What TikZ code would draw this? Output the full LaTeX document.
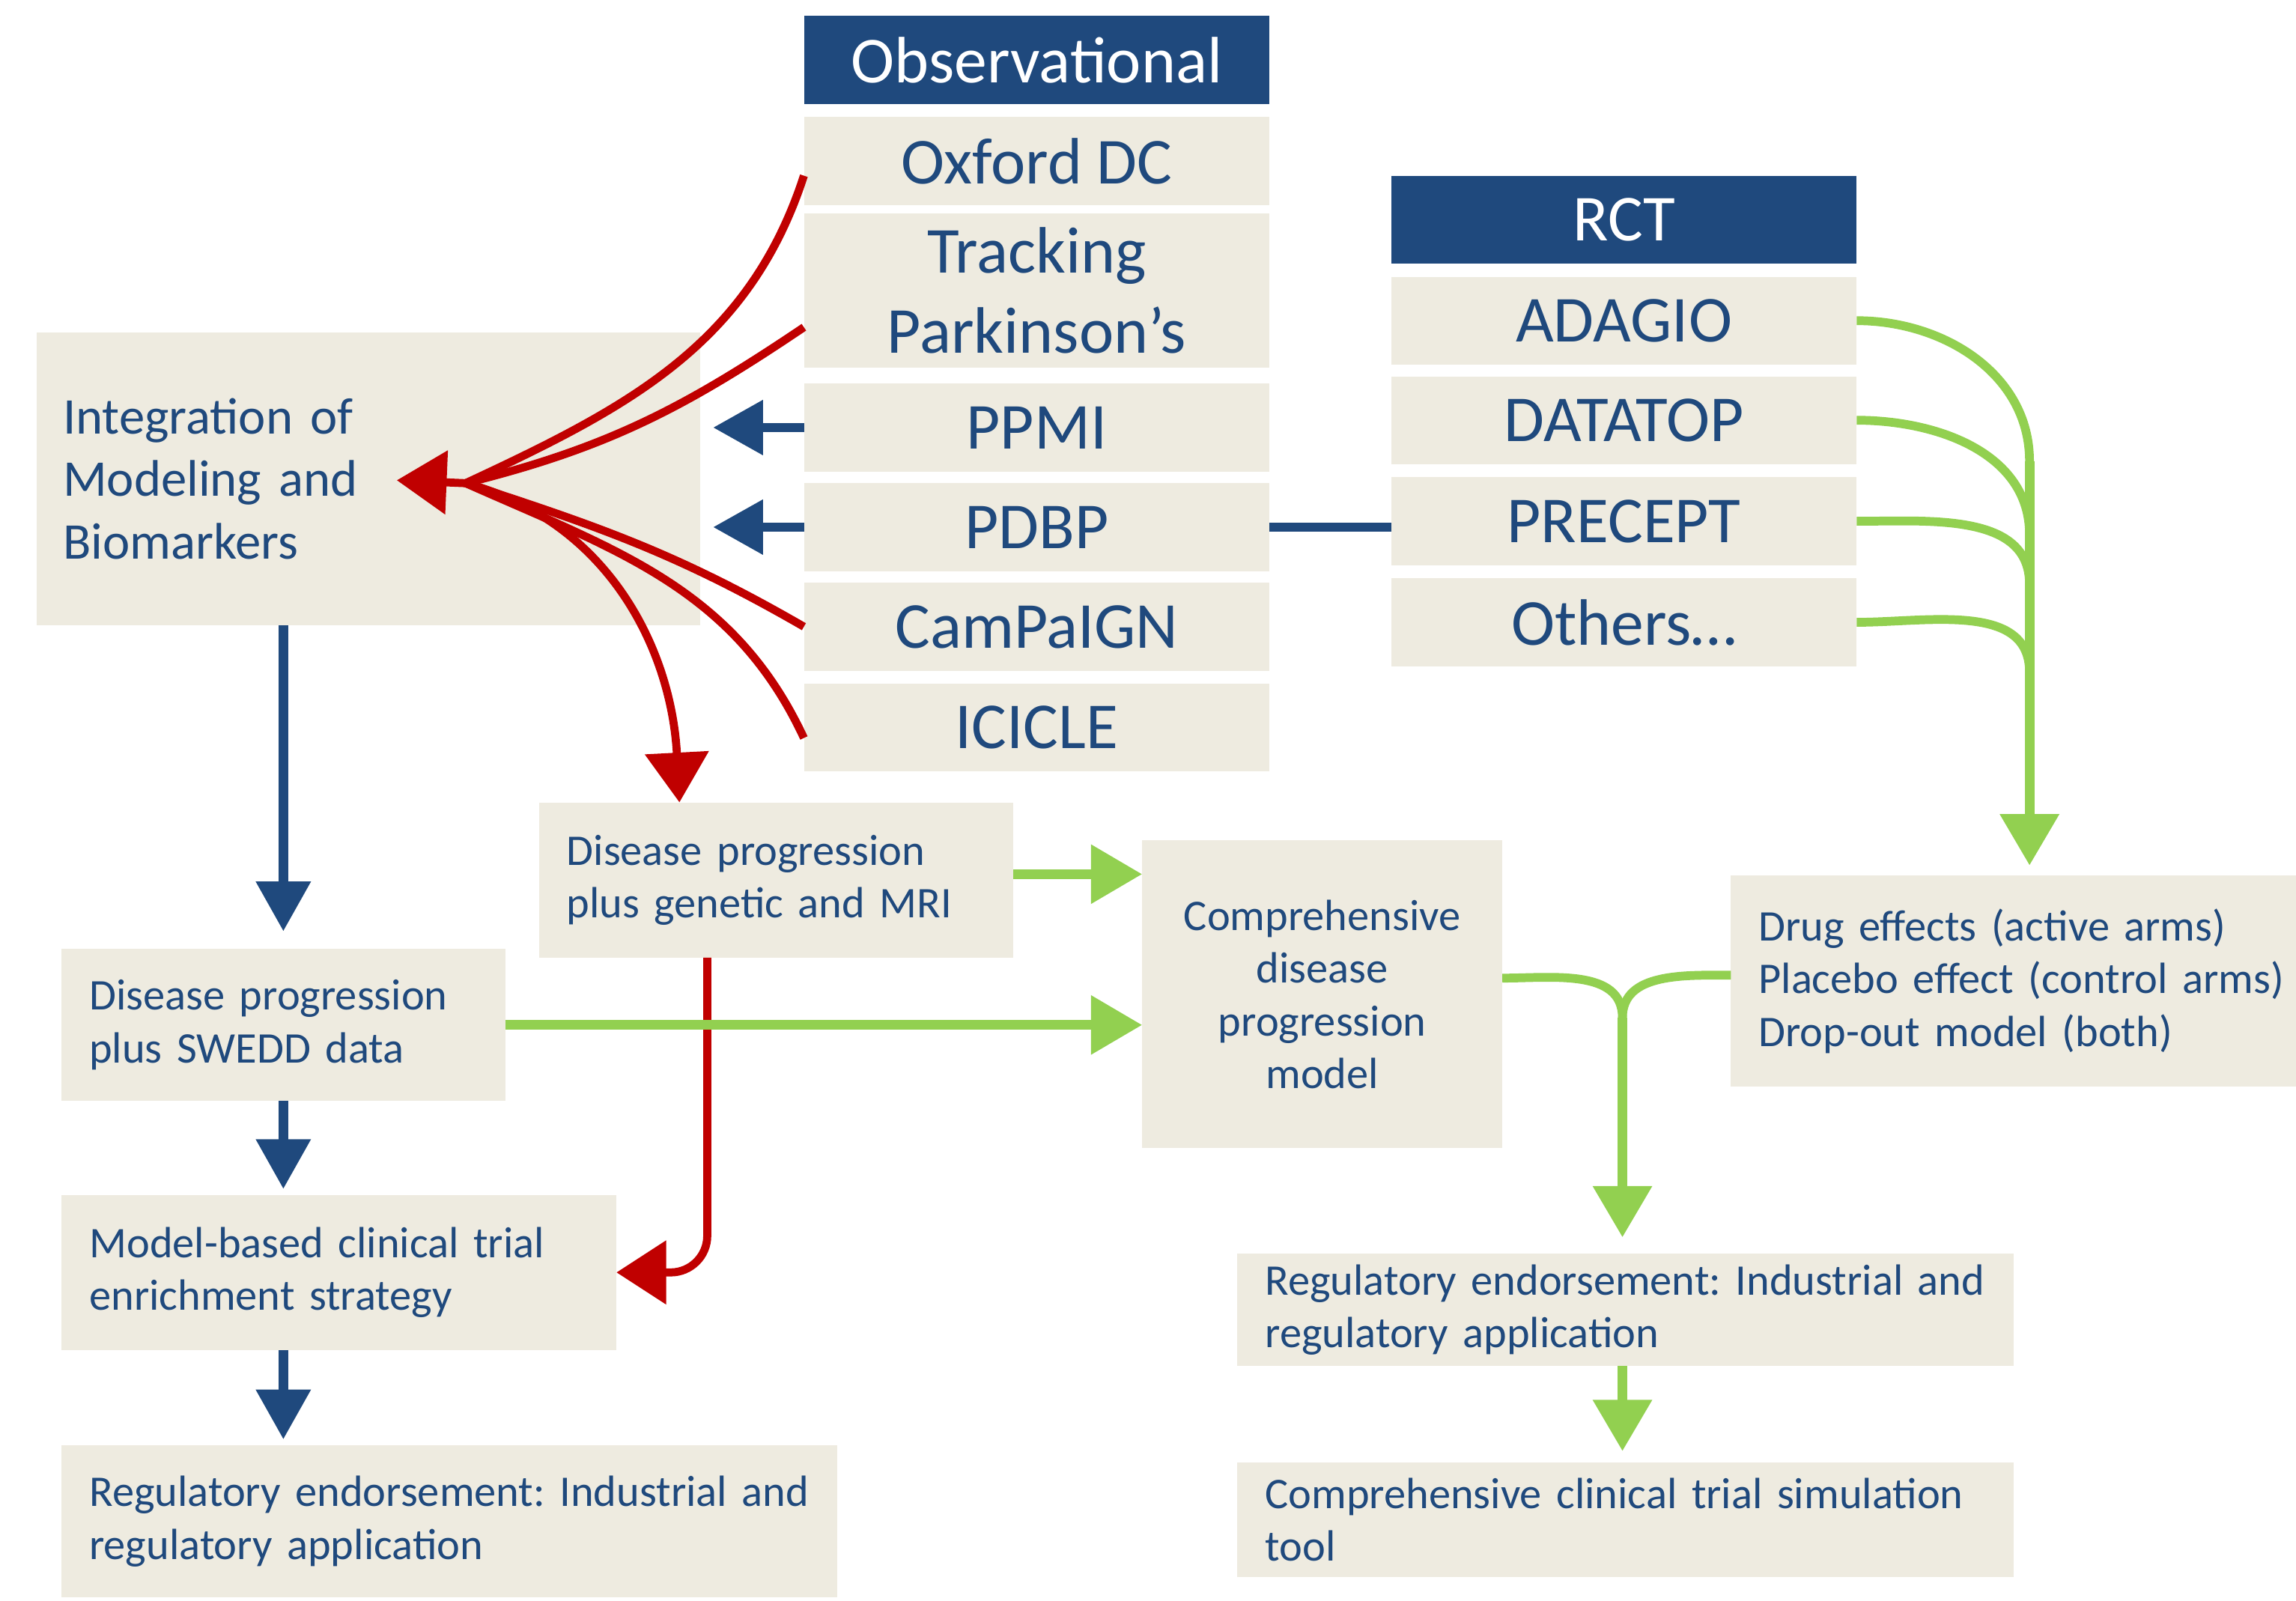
\documentclass[tikz,border=0pt]{standalone}
\usepackage{fontspec}
\setmainfont{Carlito}
\usepackage{tikz}
\usetikzlibrary{
	arrows.meta,
	positioning
}
\definecolor{navy}{HTML}{1F497D}
\definecolor{paper}{HTML}{EEEBE0}
\definecolor{darkred}{HTML}{C00000}
\definecolor{leaf}{HTML}{92D050}
\frenchspacing

\begin{document}
\begin{tikzpicture}[
				header/.style={
					rectangle, fill=navy, text=white,
					minimum width=6.36cm, minimum height=1.2cm,
					inner sep=0pt, outer sep=0pt, align=center,
					font=\fontsize{25.5}{31}\selectfont
				},
				study/.style={
					header, fill=paper, text=navy
				},
				textbox/.style 2 args={
					rectangle, fill=paper, text=navy,
					text width=#1, minimum height=#2,
					inner xsep=0.38cm, inner ysep=0pt, outer sep=0pt,
					align=left, font=\fontsize{17}{20.5}\selectfont
				},
				bluearrow/.style={-{Triangle[length=0.68cm,width=0.72cm]}, line width=0.13cm, navy},
				redline/.style={line width=0.11cm, darkred},
				redarrow/.style={redline, -{Triangle[length=0.68cm,width=0.85cm]}},
				greenline/.style={line width=0.12cm, leaf},
				greenarrow/.style={greenline, line width=0.13cm, -{Triangle[length=0.7cm,width=0.78cm]}}
				]
				\useasboundingbox (0,0) rectangle (31.36,-21.86);
				
				% Observational studies
				\node[header, anchor=north west] (obs) at (10.98,-0.22) {Observational};
				\node[study, below=0.18cm of obs] (oxford) {Oxford DC};
				\node[study, below=0.12cm of oxford, minimum height=2.1cm] (tracking) {Tracking\\Parkinson’s};
				\node[study, below=0.22cm of tracking] (ppmi) {PPMI};
				\node[study, below=0.16cm of ppmi] (pdbp) {PDBP};
				\node[study, below=0.16cm of pdbp] (campaign) {CamPaIGN};
				\node[study, below=0.18cm of campaign] (icicle) {ICICLE};
				
				% RCT studies
				\node[header, anchor=north west] (rct) at (19.0,-2.4) {RCT};
				\node[study, below=0.18cm of rct] (adagio) {ADAGIO};
				\node[study, below=0.16cm of adagio] (datatop) {DATATOP};
				\node[study, below=0.18cm of datatop] (precept) {PRECEPT};
				\node[study, below=0.18cm of precept] (others) {Others…};
				
				% integration
				\node[textbox={8.34cm}{4cm}, inner xsep=0.36cm, anchor=north west,
					font=\fontsize{20}{24.2}\selectfont] (integ) at (0.5,-4.54)
					{Integration of\\Modeling and\\Biomarkers};
				
				% left column
				\node[textbox={5.3cm}{2.08cm}, anchor=north west] (swedd) at (0.84,-12.96)
					{Disease progression\\plus SWEDD data};
				\node[textbox={6.82cm}{2.12cm}, below=1.28cm of swedd.south west, anchor=north west] (enrich)
					{Model-based clinical trial\\enrichment strategy};
				\node[textbox={9.84cm}{2.08cm}, below=1.3cm of enrich.south west, anchor=north west] (regL)
					{Regulatory endorsement: Industrial and\\regulatory application};
				
				% middle
				\node[textbox={5.72cm}{2.12cm}, anchor=north west] (gen) at (7.36,-10.96)
					{Disease progression\\plus genetic and MRI};
				\node[textbox={4.16cm}{4.2cm}, align=center, anchor=north west] (comp) at (15.6,-11.48)
					{Comprehensive\\disease\\progression\\model};
				
				% right side
				\node[textbox={7.2cm}{2.88cm}, anchor=north west] (drug) at (23.64,-11.96)
					{Drug effects (active arms)\\Placebo effect (control arms)\\Drop-out model (both)};
				\node[textbox={9.84cm}{1.54cm}, anchor=north west] (regR) at (16.9,-17.12)
					{Regulatory endorsement: Industrial and\\regulatory application};
				\node[textbox={9.84cm}{1.56cm}, below=1.32cm of regR.south west, anchor=north west] (sim)
					{Comprehensive clinical trial simulation\\tool};
				
				% meeting points
				\coordinate (hub) at (6.36,-6.6);
				\coordinate (integtip) at (5.42,-6.56);
				\coordinate (mA) at (27.72,-6.3);
				\coordinate (mB) at (27.72,-7.3);
				\coordinate (mC) at (27.72,-7.98);
				\coordinate (mD) at (27.72,-9.18);
				\coordinate (mergeR) at (22.16,-13.9);
				
				% blue arrows
				\draw[bluearrow, shorten >=0.18cm] (ppmi.west) -- (ppmi.west -| integ.east);
				\draw[bluearrow, shorten >=0.18cm] (pdbp.west) -- (pdbp.west -| integ.east);
				\draw[line width=0.13cm, navy] (pdbp.east) -- (pdbp.east -| precept.west);
				\draw[bluearrow, shorten >=0.24cm] (integ.south -| swedd.north) -- (swedd.north);
				\draw[bluearrow, shorten >=0.08cm] (swedd.south) -- (swedd.south |- enrich.north);
				\draw[bluearrow, shorten >=0.08cm] (enrich.south -| swedd.south) -- (swedd.south |- regL.north);
				
				% red arrows
				\draw[redline] ([yshift=-0.2cm]oxford.west) to[out=-108,in=25] (hub);
				\draw[redline] ([yshift=-0.5cm]tracking.west) to[out=-146,in=14] (hub);
				\draw[redline] (campaign.west) to[out=150,in=-18] (hub);
				\draw[redline] ([yshift=-0.14cm]icicle.west) to[out=115,in=-24] (hub);
				\draw[redarrow] (hub) -- (integtip);
				\draw[redarrow] (hub) to[out=-15,in=93] ([xshift=-1.32cm]gen.north);
				\draw[redarrow, rounded corners=0.5cm] ([xshift=-0.94cm]gen.south) |- (enrich.east);
				
				% green arrows
				\draw[greenarrow] ([yshift=0.08cm]gen.east) -- ([yshift=0.08cm]gen.east -| comp.west);
				\draw[greenarrow] (swedd.east) -- (swedd.east -| comp.west);
				\draw[greenline] (adagio.east) to[out=0,in=90] (mA);
				\draw[greenline] (datatop.east) to[out=0,in=90] (mB);
				\draw[greenline] (precept.east) to[out=0,in=90] (mC);
				\draw[greenline] (others.east) to[out=0,in=90] (mD);
				\draw[greenarrow, shorten >=0.14cm] (mA) -- (mA |- drug.north);
				\draw[greenline] ([yshift=0.22cm]comp.east) to[out=0,in=90] (mergeR);
				\draw[greenline] ([yshift=0.08cm]drug.west) to[out=180,in=90] (mergeR);
				\draw[greenarrow, shorten >=0.22cm] (mergeR) -- (mergeR |- regR.north);
				\draw[greenarrow, shorten >=0.16cm] (regR.south -| mergeR) -- (mergeR |- sim.north);
			\end{tikzpicture}
\end{document}
